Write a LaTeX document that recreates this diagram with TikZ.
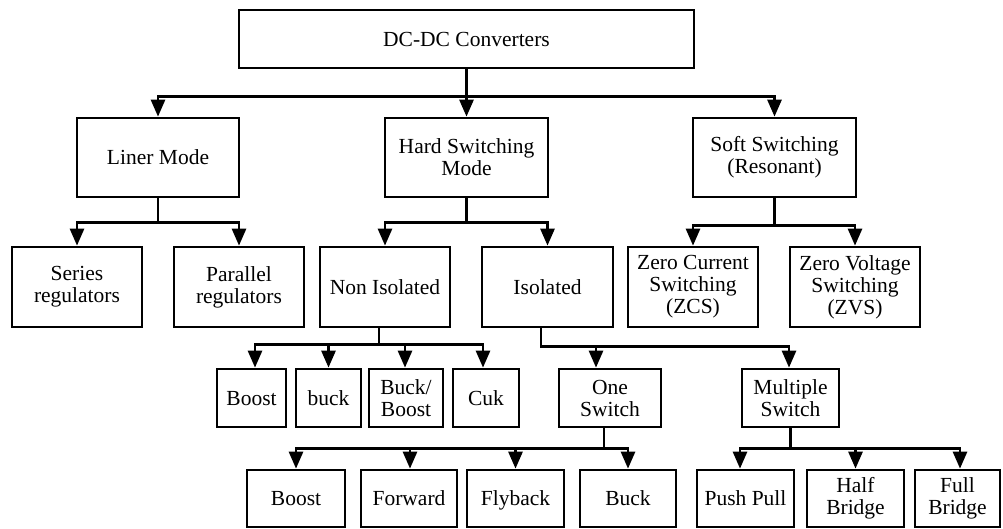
\documentclass[tikz,border=0pt]{standalone}
\usepackage{fontspec}
\setmainfont{Liberation Serif}
\usetikzlibrary{arrows.meta}
\begin{document}
\begin{tikzpicture}[x=1pt,y=-1pt,
  box/.style={draw, line width=2.7pt, inner sep=0pt, align=center,
    font=\fontsize{21.5}{22}\selectfont},
  one/.style={text height=14.2pt, text depth=0pt},
  conn/.style={line width=2.7pt, -{Triangle[length=17pt,width=14pt]}}]
\useasboundingbox[fill=white] (0,0) rectangle (1003,529);

% level 0
\node[box, one, minimum width=455pt, minimum height=58pt] (top) at (466.5,39) {DC-DC Converters};
% level 1
\node[box, one, minimum width=162pt, minimum height=79pt] (liner) at (158,157.5) {Liner Mode};
\node[box, minimum width=163pt, minimum height=79pt] (hard) at (466.5,157.5) {Hard Switching\\Mode};
\node[box, minimum width=163pt, minimum height=79pt] (soft) at (774.5,157.5) {Soft Switching\\(Resonant)};
% level 2
\node[box, minimum width=130pt, minimum height=80pt] (series) at (77,287) {Series\\regulators};
\node[box, minimum width=130pt, minimum height=80pt] (parallel) at (239,287) {Parallel\\regulators};
\node[box, one, minimum width=130pt, minimum height=80pt] (noniso) at (385,287) {Non Isolated};
\node[box, one, minimum width=131pt, minimum height=80pt] (iso) at (547.5,287) {Isolated};
\node[box, minimum width=130pt, minimum height=80pt] (zcs) at (693,287) {Zero Current\\Switching\\(ZCS)};
\node[box, minimum width=130pt, minimum height=80pt] (zvs) at (855,287) {Zero Voltage\\Switching\\(ZVS)};
% level 3
\node[box, one, minimum width=69pt, minimum height=58pt] (boosta) at (251.5,398) {Boost};
\node[box, one, minimum width=65pt, minimum height=58pt] (bucka) at (328.5,398) {buck};
\node[box, minimum width=74pt, minimum height=58pt] (buckboost) at (406,398) {Buck/\\Boost};
\node[box, one, minimum width=66pt, minimum height=58pt] (cuk) at (486,398) {Cuk};
\node[box, minimum width=102pt, minimum height=58pt] (onesw) at (610,398) {One\\Switch};
\node[box, minimum width=97pt, minimum height=58pt] (multi) at (790.5,398) {Multiple\\Switch};
% level 4
\node[box, one, minimum width=98pt, minimum height=57pt] (boostb) at (296,498.5) {Boost};
\node[box, one, minimum width=96pt, minimum height=57pt] (forward) at (409,498.5) {Forward};
\node[box, one, minimum width=97pt, minimum height=57pt] (flyback) at (515.5,498.5) {Flyback};
\node[box, one, minimum width=96pt, minimum height=57pt] (buckb) at (628,498.5) {Buck};
\node[box, one, minimum width=97pt, minimum height=57pt] (push) at (745.5,498.5) {Push Pull};
\node[box, minimum width=97pt, minimum height=57pt] (half) at (855.5,498.5) {Half\\Bridge};
\node[box, minimum width=85pt, minimum height=57pt] (full) at (957.5,498.5) {Full\\Bridge};

% connectors level 0 -> 1
\draw[conn] (top.south) -- ++(0,27) -| (liner.north);
\draw[conn] (top.south) -- ++(0,27) -| (hard.north);
\draw[conn] (top.south) -- ++(0,27) -| (soft.north);
% level 1 -> 2
\draw[conn] (liner.south) -- ++(0,24) -| (series.north);
\draw[conn] (liner.south) -- ++(0,24) -| (parallel.north);
\draw[conn] (hard.south) -- ++(0,24) -| (noniso.north);
\draw[conn] (hard.south) -- ++(0,24) -| (iso.north);
\draw[conn] (soft.south) -- ++(0,27) -| (zcs.north);
\draw[conn] (soft.south) -- ++(0,27) -| (zvs.north);
% level 2 -> 3
\draw[conn] ([xshift=-6pt]noniso.south) -- ++(0,16) -| ([xshift=3.5pt]boosta.north);
\draw[conn] ([xshift=-6pt]noniso.south) -- ++(0,16) -| (bucka.north);
\draw[conn] ([xshift=-6pt]noniso.south) -- ++(0,16) -| ([xshift=-1pt]buckboost.north);
\draw[conn] ([xshift=-6pt]noniso.south) -- ++(0,16) -| ([xshift=-3pt]cuk.north);
\draw[conn] ([xshift=-6.5pt]iso.south) -- ++(0,18) -| ([xshift=-14pt]onesw.north);
\draw[conn] ([xshift=-6.5pt]iso.south) -- ++(0,18) -| ([xshift=-1.5pt]multi.north);
% level 3 -> 4
\draw[conn] ([xshift=-6pt]onesw.south) -- ++(0,20) -| (boostb.north);
\draw[conn] ([xshift=-6pt]onesw.south) -- ++(0,20) -| ([xshift=1pt]forward.north);
\draw[conn] ([xshift=-6pt]onesw.south) -- ++(0,20) -| (flyback.north);
\draw[conn] ([xshift=-6pt]onesw.south) -- ++(0,20) -| (buckb.north);
\draw[conn] (multi.south) -- ++(0,20) -| ([xshift=-5.5pt]push.north);
\draw[conn] (multi.south) -- ++(0,20) -| (half.north);
\draw[conn] (multi.south) -- ++(0,20) -| ([xshift=2.5pt]full.north);
\end{tikzpicture}
\end{document}
